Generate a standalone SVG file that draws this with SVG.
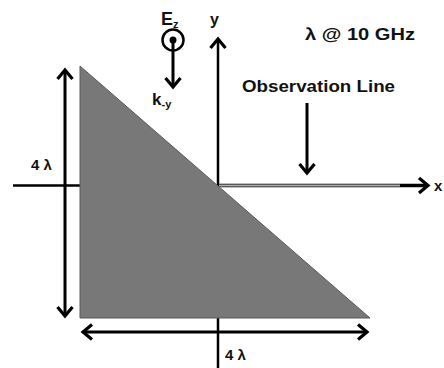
<svg xmlns="http://www.w3.org/2000/svg" width="444" height="368" viewBox="0 0 444 368">
<defs>
<style>
.t{font-family:"Liberation Sans",Arial,sans-serif;font-weight:bold;fill:#111}
.ln{stroke:#000;stroke-width:2.5;fill:none}
.ar{stroke:#000;stroke-width:3;fill:none}
</style>
<marker id="ah" markerUnits="userSpaceOnUse" markerWidth="20" markerHeight="20" refX="0" refY="0" viewBox="-12 -10 14 20" orient="auto-start-reverse" overflow="visible">
<path d="M-9,-7.5 L0,0 L-9,7.5" fill="none" stroke="#000" stroke-width="3.2" stroke-linejoin="miter"/>
</marker>
</defs>
<g id="connectors">
<line class="ln" x1="13" y1="185.5" x2="80" y2="185.5"/>
<line class="ln" x1="218" y1="318" x2="218" y2="368"/>
<line class="ln" x1="218" y1="185" x2="218" y2="39" marker-end="url(#ah)"/>
<line x1="218" y1="185.5" x2="428" y2="185.5" stroke="#000" stroke-width="3.5" marker-end="url(#ah)"/>
<line x1="219" y1="185.5" x2="400" y2="185.5" stroke="#b0b0b0" stroke-width="1.8"/>
<line class="ar" x1="65" y1="70" x2="65" y2="316" marker-start="url(#ah)" marker-end="url(#ah)"/>
<line class="ar" x1="83" y1="332" x2="367" y2="332" marker-start="url(#ah)" marker-end="url(#ah)"/>
<line class="ar" x1="307" y1="103" x2="307" y2="173" marker-end="url(#ah)"/>
<line class="ar" x1="173" y1="40" x2="173" y2="87" marker-end="url(#ah)"/>
</g>
<g id="triangle">
<polygon points="80,66 80,318 370,318" fill="#787878" stroke="#5a5a5a" stroke-width="1"/>
</g>
<g id="source">
<circle cx="173" cy="40" r="10.5" fill="none" stroke="#000" stroke-width="2.5"/>
<circle cx="173" cy="40" r="3.5" fill="#000"/>
<text class="t" x="161" y="25" font-size="18">E<tspan font-size="11" dy="3">z</tspan></text>
<text class="t" x="152" y="105" font-size="17">k<tspan font-size="11" dy="3">-y</tspan></text>
</g>
<g id="labels">
<text class="t" x="210" y="25" font-size="16">y</text>
<text class="t" x="434" y="191" font-size="15">x</text>
<text class="t" x="305" y="40" font-size="16" textLength="110" lengthAdjust="spacingAndGlyphs">λ  @ 10 GHz</text>
<text class="t" x="242" y="92" font-size="16.5" textLength="153" lengthAdjust="spacingAndGlyphs">Observation Line</text>
<text class="t" x="31" y="170" font-size="15">4 λ</text>
<text class="t" x="225" y="360" font-size="15">4 λ</text>
</g>
</svg>
